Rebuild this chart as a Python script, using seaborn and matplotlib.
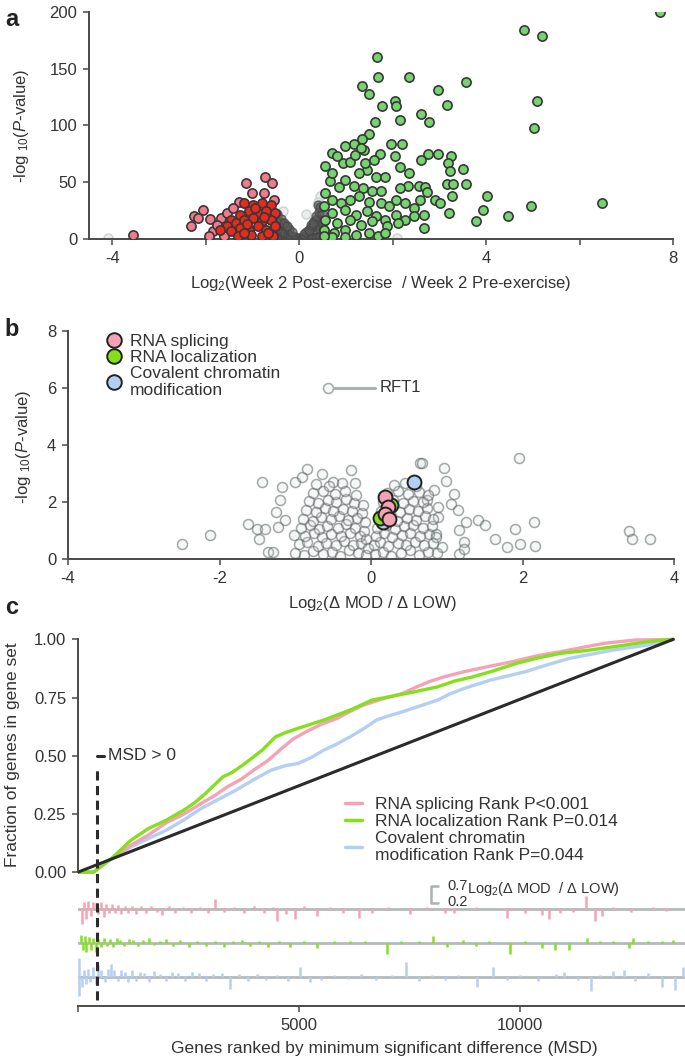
import matplotlib
matplotlib.use("Agg")
import matplotlib.pyplot as plt
import seaborn as sns
from matplotlib.lines import Line2D

# ---- panel a: volcano, week 2 post vs pre exercise (log2 FC, -log10 P)
green_a = [(7.72,200),(4.8,184),(5.2,179),(1.67,160),(1.69,143),(2.35,143),(3.58,138),(1.35,135),
           (1.49,128),(2.96,131),(5.08,122),(2.04,122),(2.07,117),(1.77,117),(3.17,118),(2.16,105),
           (2.61,110),(2.78,103),(1.62,103),(5.02,98),(1.49,92.5),(1.35,88),(1.97,84),(2.19,84),
           (1.18,84),(0.99,82),(0.71,75.5),(1.39,78.5),(1.72,75),(2.05,73.5),(2.75,75),(2.96,75),
           (3.25,73.5),(2.61,70),(3.18,67),(3.51,62),(3.22,59.5),(2.16,63),(2.35,58),(0.94,67),
           (0.8,73),(1.08,68),(3.17,48.6),(3.29,48.6),(3.58,48.6),(2.33,47),(2.56,47),(2.7,45.7),
           (2.16,44.8),(3.27,38),(4.02,37.5),(2.73,41),(2.9,34.5),(3.02,32),(6.48,31.6),(4.97,28.7),
           (3.94,25.8),(3.21,22.8),(4.47,20),(3.78,16),(2.68,21.4),(2.66,9.7),(1.65,55),(1.84,55),
           (1.45,61),(1.27,58),(0.66,50.7),(0.85,46),(0.99,52),(1.18,47),(1.36,44.8),(1.55,42),
           (1.74,42),(0.56,40.4),(0.71,34.5),(0.89,31.6),(1.08,34.5),(1.27,37.5),(1.5,33),(1.74,31.6),
           (1.93,28.7),(2.07,34.5),(2.26,31.6),(2.45,27.2),(2.59,34.5),(0.52,28.7),(0.71,22.8),
           (0.99,25.8),(1.22,21.4),(1.45,24.3),(1.65,20),(1.84,17),(2.07,21.4),(2.26,17),(2.45,20),
           (0.56,17),(0.8,14),(1.08,17),(1.32,12.6),(1.55,15.5),(1.88,11),(2.12,14),(0.52,8.2),
           (0.75,5.3),(0.99,8.2),(1.22,3.8),(1.5,5.3),(1.69,2.3),(0.71,1.8),(0.99,1.8),(0.52,2.3),
           (1.84,5.3),(1.41,67),(1.6,70),(0.71,58),(0.56,64),(1.2,74),(1.32,80)]
pink_a = [(-3.55,3.8),(-0.73,55),(-0.58,49),(-1.13,49),(-1.02,40.4),(-0.75,40.4),(-1.29,33),
          (-2.05,25.2),(-2.26,20),(-2.16,18.4),(-1.91,17.9),(-2.31,11.7),(-1.67,18.4),(-1.84,6.7),
          (-1.93,2.9),(-1.6,2.3),(-0.54,34.5),(-1.55,22.8),(-1.41,27),(-1.75,12)]
red_a = [(-1.18,31.6),(-0.99,30),(-0.8,31.6),(-0.61,30),(-1.46,17),(-1.27,21.4),(-1.08,24.3),
         (-0.89,22.8),(-0.71,24.3),(-0.52,22.8),(-1.55,11),(-1.36,14),(-1.18,17),(-0.99,18.4),
         (-0.8,15.5),(-0.61,17),(-1.69,8.2),(-1.46,6.7),(-1.27,9.7),(-1.08,8.2),(-0.89,11),
         (-0.71,8.2),(-0.52,11),(-1.32,2.3),(-1.04,3.8),(-0.8,2.9),(-0.56,2.9),(-1.18,5.3),
         (-0.66,5),(-0.95,27),(-1.12,13),(-0.75,19)]
gray_a = [(-0.55,2),(-0.5,2),(-0.45,2),(-0.4,2),(-0.35,1.5),(-0.3,1.5),(-0.25,1.5),(-0.2,1.2),
          (-0.15,1),(-0.1,1),(-0.06,0.8),(-0.03,0.5),(-0.55,8),(-0.5,9),(-0.45,8),(-0.4,7),
          (-0.35,6),(-0.3,5),(-0.25,4),(-0.2,3),(-0.15,2.5),(-0.1,2),(-0.5,16),(-0.42,15),
          (-0.35,13),(-0.28,11),(-0.22,9),(-0.16,6),(-0.48,22),(-0.4,18),(-0.32,14),(-0.26,11),
          (0.03,0.8),(0.06,1),(0.1,1.5),(0.15,1.5),(0.2,2),(0.25,2),(0.3,2),(0.35,2),(0.4,2),
          (0.45,2),(0.5,2),(0.55,2),(0.1,4),(0.15,6),(0.2,8),(0.25,10),(0.3,12),(0.35,12),
          (0.4,10),(0.45,9),(0.5,8),(0.2,8),(0.26,12),(0.32,16),(0.38,18),(0.44,16),(0.5,14),
          (0.3,14),(0.36,20),(0.42,24),(0.48,22),(0.4,30),(0.45,28)]
faint_a = [(-4.1,0.5),(-1.1,0.5),(-1.9,1),(2.1,0.8),(-0.35,25),(0.15,22),(0.45,38),(0.4,33)]

# ---- panel b: volcano, log2(dMOD / dLOW)
gray_b = [(-2.49,0.54),(-2.13,0.83),(-1.44,2.7),(-1.63,1.24),(-1.51,1.06),(-1.48,0.71),(-1.40,1.06),
          (-1.36,0.25),(-1.30,0.25),(-1.25,1.65),(-1.2,2.06),(-1.17,2.53),(-1.14,1.36),(-1.23,1.12),
          (-1.0,2.7),(-0.91,2.88),(-0.85,3.17),(-0.65,2.99),(-0.5,2.7),(-0.27,3.11),(-0.21,2.67),
          (0.64,3.38),(0.67,3.38),(0.96,3.2),(0.99,2.74),(1.95,3.56),(1.06,1.94),(1.09,2.29),
          (1.15,1.71),(1.16,1.01),(1.23,0.6),(1.26,1.3),(1.41,1.36),(1.5,1.18),(1.64,0.71),
          (1.79,0.42),(1.9,1.06),(1.96,0.54),(2.15,1.3),(2.17,0.44),(3.4,1.0),(3.44,0.71),
          (3.68,0.71),(0.83,2.41),(0.74,2.06),(0.89,1.82),(0.89,1.47),(0.86,0.89),(0.94,0.42),
          (1.16,0.19),(1.23,0.36),(-0.57,6.01),
          (-1.00,0.22),(-0.88,0.15),(-0.77,0.28),(-0.63,0.18),(-0.52,0.25),(-0.41,0.12),(-0.29,0.3),
          (-0.17,0.2),(-0.07,0.15),(-0.95,0.52),(-0.84,0.6),(-0.70,0.45),(-0.60,0.55),(-0.46,0.5),
          (-0.36,0.62),(-0.24,0.48),(-0.13,0.55),(-0.04,0.4),(-1.02,0.85),(-0.87,0.8),(-0.75,0.92),
          (-0.65,0.78),(-0.53,0.88),(-0.39,0.8),(-0.28,0.9),(-0.15,0.82),(-0.06,0.7),(-0.93,1.1),
          (-0.80,1.2),(-0.69,1.05),(-0.58,1.15),(-0.44,1.1),(-0.33,1.22),(-0.21,1.08),(-0.09,1.0),
          (-0.90,1.42),(-0.77,1.35),(-0.66,1.48),(-0.53,1.4),(-0.42,1.5),(-0.30,1.38),(-0.18,1.45),
          (-0.08,1.3),(-0.86,1.72),(-0.73,1.65),(-0.61,1.78),(-0.50,1.68),(-0.37,1.75),(-0.25,1.7),
          (-0.12,1.62),(-0.82,2.02),(-0.70,1.95),(-0.57,2.08),(-0.46,2.0),(-0.33,2.1),(-0.22,1.98),
          (-0.11,1.9),(-0.77,2.3),(-0.63,2.38),(-0.48,2.28),(-0.35,2.4),(-0.20,2.25),(-0.72,2.62),
          (-0.55,2.55),(-0.38,2.68),
          (0.05,0.18),(0.16,0.25),(0.27,0.12),(0.39,0.22),(0.51,0.3),(0.63,0.15),(0.75,0.25),
          (0.87,0.2),(0.04,0.5),(0.12,0.58),(0.22,0.45),(0.35,0.55),(0.46,0.48),(0.58,0.6),
          (0.70,0.5),(0.82,0.55),(0.06,0.82),(0.17,0.9),(0.28,0.78),(0.41,0.85),(0.52,0.92),
          (0.64,0.8),(0.76,0.88),(0.86,0.78),(0.08,1.1),(0.20,1.18),(0.31,1.05),(0.44,1.15),
          (0.56,1.2),(0.68,1.08),(0.80,1.15),(0.10,1.4),(0.23,1.48),(0.34,1.35),(0.47,1.45),
          (0.59,1.38),(0.71,1.5),(0.82,1.42),(0.13,1.7),(0.26,1.78),(0.38,1.65),(0.50,1.75),
          (0.62,1.68),(0.74,1.8),(0.16,2.0),(0.29,2.08),(0.42,1.95),(0.55,2.05),(0.68,2.0),
          (0.21,2.3),(0.35,2.38),(0.49,2.28),(0.63,2.35),(0.75,2.25),(0.30,2.6),(0.45,2.68),
          (0.60,2.55)]
splicing_b = [(0.19,2.18),(0.22,1.82),(0.19,1.59),(0.24,1.39)]
localization_b = [(0.27,1.88),(0.12,1.45)]
chromatin_b = [(0.57,2.7),(0.16,1.3)]
rft1 = (-0.57, 6.01)

# ---- panel c: cumulative fraction of gene set vs MSD rank
splicing_cdf = [(0,0),(350,0),(700,0.05),(1190,0.115),(1600,0.16),(1984,0.211),(2400,0.25),
                (2778,0.294),(3100,0.33),(3373,0.366),(3700,0.4),(3968,0.438),(4300,0.48),
                (4563,0.524),(4850,0.57),(5158,0.603),(5500,0.635),(5853,0.66),(6150,0.69),
                (6448,0.717),(6900,0.745),(7341,0.768),(7650,0.795),(7936,0.818),(8300,0.84),
                (8730,0.861),(9300,0.884),(9821,0.904),(10400,0.93),(10912,0.947),(11400,0.965),
                (11904,0.983),(12598,0.997),(13461,1.0)]
localization_cdf = [(0,0),(350,0),(794,0.065),(1190,0.136),(1587,0.187),(1984,0.222),(2381,0.265),
                    (2650,0.3),(2877,0.337),(3274,0.409),(3500,0.43),(3770,0.466),(4166,0.524),
                    (4464,0.581),(4700,0.6),(4960,0.617),(5555,0.653),(6150,0.696),(6646,0.739),
                    (7000,0.752),(7440,0.768),(8134,0.796),(8500,0.82),(8928,0.839),(9400,0.865),
                    (9920,0.897),(10400,0.92),(10912,0.94),(11500,0.952),(12102,0.968),
                    (12896,0.99),(13461,1.0)]
chromatin_cdf = [(0,0),(350,0),(700,0.05),(1190,0.108),(1600,0.145),(1984,0.179),(2400,0.225),
                 (2778,0.273),(3200,0.315),(3571,0.352),(4000,0.4),(4365,0.438),(4700,0.458),
                 (4960,0.466),(5250,0.49),(5555,0.524),(5850,0.55),(6150,0.581),(6450,0.615),
                 (6745,0.653),(7000,0.67),(7341,0.689),(7750,0.715),(8134,0.739),(8400,0.765),
                 (8730,0.789),(9325,0.825),(10118,0.861),(10600,0.89),(11110,0.918),
                 (12102,0.954),(12896,0.976),(13461,1.0)]
diagonal = [(0,0),(13461,1.0)]
msd_cut = 430

# barcode rows: (rank, log2 dMOD/dLOW)
splicing_bars = [(80,-0.45),(130,0.2),(180,-0.3),(230,0.25),(290,-0.2),(340,0.22),(400,0.18),
                 (460,-0.15),(520,0.2),(580,-0.22),(640,0.15),(700,-0.12),(770,0.16),(840,-0.1),
                 (910,0.12),(980,-0.15),(1060,0.1),(1140,-0.12),(1230,0.1),(1320,-0.15),(1420,0.08),
                 (1530,-0.12),(1650,0.1),(1780,-0.08),(1900,-0.18),(2050,0.08),(2200,-0.12),
                 (2380,0.06),(2550,-0.1),(2750,0.07),(2950,-0.12),(3100,0.3),(3300,-0.08),(3520,0.06),
                 (3750,-0.1),(3980,0.08),(4200,-0.12),(4400,0.06),(4500,-0.35),(4700,-0.15),
                 (4900,-0.3),(5100,0.08),(5400,-0.2),(5700,0.06),(6000,-0.12),(6350,-0.25),
                 (6650,-0.1),(7000,0.06),(7500,-0.15),(7900,0.05),(8300,-0.1),(8500,-0.12),
                 (9000,0.05),(9700,-0.25),(10100,-0.1),(10500,-0.18),(10650,-0.3),(10900,-0.12),
                 (11200,-0.08),(11490,0.38),(11700,-0.34),(11850,-0.2),(12100,0.06),(12500,-0.08),
                 (13000,0.05),(13300,-0.06)]
localization_bars = [(70,0.25),(110,-0.2),(150,0.22),(190,-0.25),(240,0.18),(290,-0.2),(350,0.15),
                     (400,-0.25),(460,0.12),(520,-0.1),(580,0.14),(650,-0.08),(720,0.12),(800,-0.1),
                     (880,0.15),(960,0.1),(1050,-0.08),(1150,0.12),(1250,0.08),(1360,-0.08),
                     (1480,0.1),(1600,0.15),(1720,-0.06),(1850,0.06),(2000,0.12),(2150,-0.08),
                     (2300,0.08),(2500,-0.1),(2700,0.06),(2900,-0.08),(3100,0.05),(3300,-0.1),
                     (3500,0.06),(3700,0.08),(3900,-0.08),(4100,0.05),(4300,-0.1),(4550,0.06),
                     (4800,-0.12),(5100,0.05),(5400,-0.15),(5800,0.05),(6150,0.05),(6500,0.06),
                     (6994,-0.32),(7300,0.05),(7700,0.06),(8035,0.2),(8350,-0.1),(8700,0.1),
                     (9000,-0.08),(9300,0.05),(9771,-0.32),(10100,0.06),(10500,-0.15),(10793,-0.2),
                     (11110,-0.2),(11507,0.15),(11800,0.05),(12100,0.06),(12450,-0.15),(12550,0.15),
                     (12900,0.05),(13200,0.06),(13461,0.1)]
chromatin_bars = [(20,0.55),(25,-0.55),(80,-0.3),(130,0.2),(180,-0.2),(230,0.25),(280,-0.15),
                  (340,0.3),(400,-0.2),(460,0.35),(530,0.2),(600,-0.15),(680,0.25),(750,0.4),
                  (820,0.2),(900,-0.12),(980,0.22),(1060,0.15),(1140,-0.15),(1220,0.2),(1310,-0.1),
                  (1400,0.15),(1500,0.12),(1600,-0.15),(1720,0.18),(1850,0.1),(1980,-0.12),
                  (2120,0.15),(2270,0.12),(2420,-0.1),(2580,0.15),(2740,0.12),(2900,-0.12),
                  (3060,0.1),(3250,0.12),(3442,-0.34),(3650,0.08),(3850,-0.12),(4050,0.1),
                  (4250,-0.08),(4500,0.06),(4750,-0.1),(5020,0.31),(5250,-0.15),(5500,-0.08),
                  (5800,0.06),(6100,-0.06),(6400,0.08),(6750,-0.08),(7100,0.06),(7420,0.44),
                  (7700,-0.1),(8000,0.06),(8300,-0.08),(8600,0.06),(9027,-0.3),(9375,0.3),
                  (9700,-0.08),(10000,0.06),(10400,-0.1),(10800,0.08),(11000,0.15),(11300,-0.08),
                  (11606,-0.4),(11800,0.06),(12100,0.18),(12350,0.2),(12600,-0.1),(12900,0.12),
                  (13200,-0.28),(13490,-0.37),(13690,0.3)]

legend_c = ["RNA splicing Rank P<0.001", "RNA localization Rank P=0.014",
            "Covalent chromatin\nmodification Rank P=0.044"]
legend_b = ["RNA splicing", "RNA localization", "Covalent chromatin\nmodification"]

# colours
PINK_A, RED_A, GREEN_A = "#f27a8c", "#e8291c", "#74d46e"
PINK, GREEN, BLUE = "#f5a3b4", "#84e01c", "#b3cff4"
TXT = "#333333"
AX = "#4a4a4a"

sns.set_style("ticks")
plt.rcParams['font.family'] = ['Liberation Sans', 'DejaVu Sans']
plt.rcParams['mathtext.fontset'] = 'custom'
plt.rcParams['mathtext.rm'] = 'Liberation Sans'
plt.rcParams['mathtext.it'] = 'Liberation Sans:italic'
plt.rcParams['axes.unicode_minus'] = False
plt.rcParams['text.color'] = TXT
plt.rcParams['axes.labelcolor'] = TXT
plt.rcParams['xtick.labelcolor'] = TXT
plt.rcParams['ytick.labelcolor'] = TXT


def xy(pts):
    return [p[0] for p in pts], [p[1] for p in pts]


def style_axes(ax):
    sns.despine(ax=ax)
    for s in ("left", "bottom"):
        ax.spines[s].set_color(AX)
        ax.spines[s].set_linewidth(1.4)
    ax.tick_params(length=4.5, width=1.1, color=AX, labelsize=12, pad=4)


fig = plt.figure(figsize=(6.85, 10.64), dpi=100)

# ================= a =================
ax = fig.add_axes([0.1299, 0.7754, 0.8526, 0.2133])
fx, fy = xy(faint_a)
sns.scatterplot(x=fx, y=fy, ax=ax, s=42, color="#e6e9e9", edgecolor="#c4caca",
                linewidth=1.0, alpha=0.8, legend=False, zorder=1)
gx, gy = xy(gray_a)
sns.scatterplot(x=gx, y=gy, ax=ax, s=42, color="#5a5a5a", edgecolor="#454545",
                linewidth=1.0, alpha=0.7, legend=False, zorder=2)
for pts, col in ((pink_a, PINK_A), (red_a, RED_A), (green_a, GREEN_A)):
    px_, py_ = xy(pts)
    sns.scatterplot(x=px_, y=py_, ax=ax, s=44, color=col, edgecolor="#383838",
                    linewidth=1.2, legend=False, zorder=3)
ax.set_xlim(-4.5, 8)
ax.set_ylim(0, 200)
ax.set_xticks([-4, -2, 0, 2, 4, 6, 8])
ax.set_xticklabels(["-4", "", "0", "", "4", "", "8"])
ax.set_yticks([0, 50, 100, 150, 200])
style_axes(ax)
ax.set_ylabel(r"-log ${}_{10}$($\mathit{P}$-value)", fontsize=12)
ax.yaxis.set_label_coords(-0.1, 0.5)
ax.set_xlabel(r"Log${}_2$(Week 2 Post-exercise  / Week 2 Pre-exercise)", fontsize=12)
ax.xaxis.set_label_coords(0.5, -0.155)

# ================= b =================
ax = fig.add_axes([0.0993, 0.4746, 0.8847, 0.2143])
bx, by = xy(gray_b)
sns.scatterplot(x=bx, y=by, ax=ax, s=52, color="#cfd4d4", edgecolor="#555d5d",
                linewidth=1.1, legend=False, zorder=2)
cloud = ax.collections[-1]
cloud.set_facecolor((0.82, 0.84, 0.84, 0.18))
cloud.set_edgecolor((0.36, 0.39, 0.39, 0.55))
ax.plot([rft1[0] + 0.08, 0.05], [rft1[1], rft1[1]], color="#a9b1b1", lw=2.2, zorder=3)
ax.text(0.12, rft1[1], "RFT1", fontsize=12, va="center", ha="left")
for pts, col in ((chromatin_b, BLUE), (localization_b, GREEN), (splicing_b, PINK)):
    cx, cy = xy(pts)
    sns.scatterplot(x=cx, y=cy, ax=ax, s=100, color=col, edgecolor="#222222",
                    linewidth=1.4, legend=False, zorder=4)
ax.set_xlim(-4, 4)
ax.set_ylim(0, 8)
ax.set_xticks([-4, -2, 0, 2, 4])
ax.set_yticks([0, 2, 4, 6, 8])
style_axes(ax)
ax.set_ylabel(r"-log ${}_{10}$($\mathit{P}$-value)", fontsize=12)
ax.yaxis.set_label_coords(-0.058, 0.49)
ax.set_xlabel(r"Log${}_2$(Δ MOD / Δ LOW)", fontsize=12)
ax.xaxis.set_label_coords(0.503, -0.155)
handles_b = [Line2D([0], [0], marker="o", ls="none", markersize=10.5, markerfacecolor=c,
                    markeredgecolor="#222222", markeredgewidth=1.4)
             for c in (PINK, GREEN, BLUE)]
ax.legend(handles_b, legend_b, loc="upper left", bbox_to_anchor=(0.045, 1.025), frameon=False,
          fontsize=12.5, handletextpad=0.3, labelspacing=0.05, borderpad=0, handlelength=1.2)

# ================= c =================
ax = fig.add_axes([0.1139, 0.0545, 0.8876, 0.3468])
for pts, col in ((chromatin_cdf, BLUE), (splicing_cdf, PINK), (localization_cdf, GREEN)):
    cx, cy = xy(pts)
    sns.lineplot(x=cx, y=cy, ax=ax, color=col, lw=2.4, sort=False, estimator=None, zorder=3)
dx, dy = xy(diagonal)
sns.lineplot(x=dx, y=dy, ax=ax, color="#2b2b2b", lw=2.2, sort=False, estimator=None, zorder=4)

rows = ((splicing_bars, PINK, -0.159), (localization_bars, GREEN, -0.305),
        (chromatin_bars, BLUE, -0.451))
bar_scale = 0.146  # axis units per log2 unit
for bars, col, base in rows:
    ax.axhline(base, color="#b5baba", lw=2, zorder=1)
    rx, rv = xy(bars)
    ax.vlines(rx, base, [base + v * bar_scale for v in rv], color=col, lw=1.8, zorder=2)

ax.plot([msd_cut, msd_cut], [-0.55, 0.44], color="#2b2b2b", lw=2.2,
        ls=(0, (3.0, 1.8)), zorder=5)
ax.plot([msd_cut, 590], [0.5, 0.5], color="#2b2b2b", lw=2.2, zorder=5)
ax.text(680, 0.5, "MSD > 0", fontsize=12.5, va="center", ha="left")

# scale bracket for the barcode rows
ax.plot([8150, 7983, 7983, 8150], [-0.06, -0.06, -0.133, -0.133], color="#a9b1b1", lw=1.8)
ax.text(8345, -0.06, "0.7", fontsize=10.5, va="center", ha="left")
ax.text(8345, -0.129, "0.2", fontsize=10.5, va="center", ha="left")
ax.text(8797, -0.073, r"Log${}_2$(Δ MOD  / Δ LOW)", fontsize=10.5, va="center", ha="left")

ax.set_xlim(0, 13750)
ax.set_ylim(-0.575, 1.01)
ax.set_yticks([0, 0.25, 0.5, 0.75, 1.0])
ax.set_yticklabels(["0.00", "0.25", "0.50", "0.75", "1.00"])
ax.set_xticks([0, 5000, 10000])
ax.set_xticklabels(["", "5000", "10000"])
style_axes(ax)
ax.spines["left"].set_bounds(0, 1)
ax.set_ylabel("Fraction of genes in gene set", fontsize=12.5)
ax.yaxis.set_label_coords(-0.095, 0.682)
ax.set_xlabel("Genes ranked by minimum significant difference (MSD)", fontsize=12.5)
ax.xaxis.set_label_coords(0.503, -0.095)
handles_c = [Line2D([0], [0], color=c, lw=2.5) for c in (PINK, GREEN, BLUE)]
ax.legend(handles_c, legend_c, loc="upper left", bbox_to_anchor=(0.425, 0.59), frameon=False,
          fontsize=12.5, handlelength=1.0, handletextpad=0.7, labelspacing=0.1, borderpad=0)

# panel letters
for lab, yy in (("a", 20), ("b", 329), ("c", 607)):
    fig.text(12 / 685, 1 - yy / 1064, lab, fontsize=17, fontweight="bold",
             ha="center", va="center", color="#222222")

fig.savefig("out.png", dpi=100)
